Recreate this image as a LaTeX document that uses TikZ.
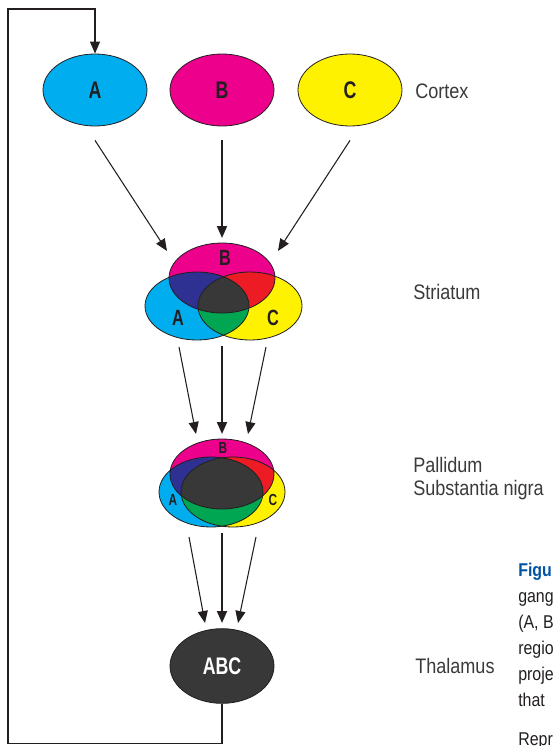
\documentclass[tikz,border=0pt]{standalone}
\usepackage{fontspec}
\setmainfont[FakeStretch=0.86]{Liberation Sans}
\newfontfamily\nucfont[FakeStretch=0.74]{Liberation Sans}
\usepackage{tikz}
\usetikzlibrary{arrows.meta,shapes.geometric,calc}
\definecolor{colA}{HTML}{00AEEF}
\definecolor{colB}{HTML}{EC008C}
\definecolor{colC}{HTML}{FFF200}
\definecolor{colAB}{HTML}{2E3192}
\definecolor{colBC}{HTML}{ED1C24}
\definecolor{colAC}{HTML}{00A651}
\definecolor{colABC}{HTML}{383838}
\definecolor{testo}{HTML}{231F20}
\definecolor{grigio}{HTML}{3A3A3A}
\definecolor{blu}{HTML}{0054A6}

\begin{document}
\begin{tikzpicture}[x=0.75pt,y=-0.75pt,
    nucleo/.style={ellipse,draw=testo,line width=0.6pt,minimum width=78pt,minimum height=54pt,
        inner sep=0pt,text=testo,font=\nucfont\bfseries\fontsize{18}{18}\selectfont},
    bordo/.style={draw=testo,line width=0.6pt},
    freccia/.style={draw=testo,line width=0.8pt,-{Triangle[length=9pt,width=7.5pt]}},
    frecciaspessa/.style={freccia,line width=1.4pt},
    area/.style={anchor=base west,text=grigio,inner sep=0pt,font=\fontsize{15.75}{18}\selectfont},
    didascalia/.style={anchor=base west,text=testo,inner sep=0pt,font=\fontsize{13.9}{16}\selectfont},
    sigla/.style={text=testo,inner sep=0pt,font=\nucfont\bfseries\fontsize{16.5}{16.5}\selectfont},
    siglapiccola/.style={sigla,font=\nucfont\bfseries\fontsize{12}{12}\selectfont}]

\useasboundingbox (0,0) rectangle (553,746);

% Corteccia
\foreach \n/\x/\c in {A/95/colA, B/222/colB, C/350/colC}
    \node[nucleo,fill=\c] (\n) at (\x,90) {\n};

% Striato
\fill[colA] (197,306) ellipse [x radius=52, y radius=34];
\fill[colC] (250,306) ellipse [x radius=52, y radius=34];
\fill[colB] (222,278) ellipse [x radius=53, y radius=35];
\begin{scope}
    \clip (250,306) ellipse [x radius=52, y radius=34];
    \fill[colBC] (222,278) ellipse [x radius=53, y radius=35];
\end{scope}
\begin{scope}
    \clip (197,306) ellipse [x radius=52, y radius=34];
    \fill[colAB] (222,278) ellipse [x radius=53, y radius=35];
    \clip (250,306) ellipse [x radius=52, y radius=34];
    \fill[colAC] (250,306) ellipse [x radius=52, y radius=34];
    \clip (222,278) ellipse [x radius=53, y radius=35];
    \fill[colABC] (222,278) ellipse [x radius=53, y radius=35];
\end{scope}
\draw[bordo] (197,306) ellipse [x radius=52, y radius=34];
\draw[bordo] (250,306) ellipse [x radius=52, y radius=34];
\draw[bordo] (222,278) ellipse [x radius=53, y radius=35];
\node[sigla] (sB) at (225,258) {B};
\node[sigla] (sA) at (178,318) {A};
\node[sigla] (sC) at (273,318) {C};

% Pallido
\fill[colA] (211,492) ellipse [x radius=52, y radius=35];
\fill[colC] (233,492) ellipse [x radius=52, y radius=35];
\fill[colB] (222,474) ellipse [x radius=52, y radius=35];
\begin{scope}
    \clip (233,492) ellipse [x radius=52, y radius=35];
    \fill[colBC] (222,474) ellipse [x radius=52, y radius=35];
\end{scope}
\begin{scope}
    \clip (211,492) ellipse [x radius=52, y radius=35];
    \fill[colAB] (222,474) ellipse [x radius=52, y radius=35];
    \clip (233,492) ellipse [x radius=52, y radius=35];
    \fill[colAC] (233,492) ellipse [x radius=52, y radius=35];
    \clip (222,474) ellipse [x radius=52, y radius=35];
    \fill[colABC] (222,474) ellipse [x radius=52, y radius=35];
\end{scope}
\draw[bordo] (211,492) ellipse [x radius=52, y radius=35];
\draw[bordo] (233,492) ellipse [x radius=52, y radius=35];
\draw[bordo] (222,474) ellipse [x radius=52, y radius=35];
\node[siglapiccola] (pB) at (223,448) {B};
\node[siglapiccola] (pA) at (173,500) {A};
\node[siglapiccola] (pC) at (273,500) {C};

% Talamo
\node[nucleo,fill=colABC,text=white,minimum height=56pt] (ABC) at (222,666) {ABC};

% Punti di arrivo delle frecce
\coordinate (s1) at (167,251);
\coordinate (s2) at (222,238);
\coordinate (s3) at (278,251);
\coordinate (u1) at (179,347);
\coordinate (u2) at (222,346);
\coordinate (u3) at (266,347);
\coordinate (p1) at (196,434);
\coordinate (p2) at (222,434);
\coordinate (p3) at (248,434);
\coordinate (q1) at (189,537);
\coordinate (q2) at (222,533);
\coordinate (q3) at (256,537);
\coordinate (t1) at (205,623);
\coordinate (t2) at (222,623);
\coordinate (t3) at (238,623);
\coordinate (ritorno) at (8,9);

% Frecce
\draw[freccia] ($(A.south)+(0,14)$) -- (s1);
\draw[frecciaspessa] ($(B.south)+(0,14)$) -- (s2);
\draw[freccia] ($(C.south)+(0,14)$) -- (s3);
\draw[freccia] (u1) -- (p1);
\draw[frecciaspessa] (u2) -- (p2);
\draw[freccia] (u3) -- (p3);
\draw[freccia] (q1) -- (t1);
\draw[frecciaspessa] (q2) -- (t2);
\draw[freccia] (q3) -- (t3);
\draw[freccia] (ABC.south) -- ++(0,40) -| (ritorno) -| (A.north);

% Etichette
\node[area] (cortex) at (415,98) {Cortex};
\node[area] (striatum) at (413,299) {Striatum};
\node[area] (pallidum) at (413,472) {Pallidum};
\node[area] (nigra) at (413,495) {Substantia nigra};
\node[area] (thalamus) at (415,673) {Thalamus};

% Didascalia
\node[didascalia,text=blu,font=\bfseries\fontsize{13.9}{16}\selectfont] (fig) at (518,576) {Figu};
\node[didascalia] (r1) at (518,602) {gang};
\node[didascalia] (r2) at (518,628) {(A, B};
\node[didascalia] (r3) at (518,654) {regio};
\node[didascalia] (r4) at (518,680) {proje};
\node[didascalia] (r5) at (518,706) {that};
\node[didascalia] (r6) at (518,745) {Repr};
\end{tikzpicture}
\end{document}
